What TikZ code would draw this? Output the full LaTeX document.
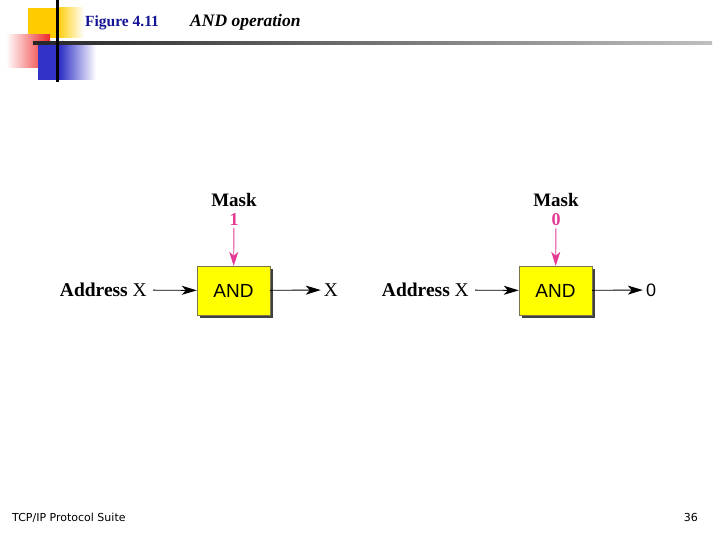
\documentclass[tikz,border=0pt]{standalone}
\usepackage{fontspec}
\setmainfont{Liberation Serif}
\newfontfamily\boxfont{Liberation Sans}
\newfontfamily\footfont{DejaVu Sans}
\usetikzlibrary{arrows.meta,shadows}
\definecolor{titleblue}{RGB}{20,20,150}
\definecolor{maskpink}{RGB}{228,58,148}
\definecolor{gateyellow}{RGB}{255,255,0}
\definecolor{decoyellow}{RGB}{255,204,0}
\definecolor{decored}{RGB}{240,40,40}
\definecolor{decoblue}{RGB}{50,50,200}
\tikzset{
  addr/.style={font=\fontsize{19.5}{22}\selectfont\bfseries, inner sep=6pt},
  result/.style={font=\fontsize{19.5}{22}\selectfont, inner sep=3pt},
  gate/.style={draw=black!60!yellow, fill=gateyellow, minimum width=73pt, minimum height=49pt,
    inner sep=0pt, font=\boxfont\fontsize{19}{21}\selectfont,
    drop shadow={shadow xshift=3pt, shadow yshift=-3pt, fill=black!75, opacity=1}},
  masklabel/.style={font=\fontsize{19}{21}\selectfont\bfseries, inner sep=1pt},
  bit/.style={font=\fontsize{18}{20}\selectfont\bfseries, text=maskpink, inner sep=2pt},
  flow/.style={-{Stealth[length=15pt,width=9pt,inset=4pt]}, line width=0.9pt},
  maskflow/.style={-{Stealth[length=14pt,width=9pt,inset=4pt]}, line width=0.9pt, draw=maskpink}
}
\begin{document}
\begin{tikzpicture}[x=1pt, y=-1pt]
\useasboundingbox[fill=white] (0,0) rectangle (720,540);
% corner decoration
\fill[decoyellow] (28,8) rectangle (57,38);
\shade[left color=decoyellow, right color=white] (57,8) rectangle (84,38);
\shade[left color=white, right color=decored] (6,35) rectangle (50,68);
\fill[decoblue] (38,44) rectangle (60,80);
\shade[left color=decoblue, right color=white] (60,44) rectangle (96,80);
\shade[left color=black!85, right color=black!25] (33,42) rectangle (712,45);
\fill[black] (55.5,0) rectangle (58.5,82);
% title
\node[anchor=base west, font=\fontsize{15.5}{18}\selectfont\bfseries, text=titleblue, inner sep=0pt]
  (fig) at (85,27) {Figure 4.11};
\node[anchor=base west, font=\fontsize{17.5}{20}\selectfont\bfseries\itshape, inner sep=0pt]
  (figname) at (190,27) {AND operation};

% left: mask bit 1
\node[gate] (andA) at (233.5,290.5) {AND};
\node[addr, anchor=east] (inA) at (153,290) {Address {\mdseries X}};
\node[result] (outA) at (331,290) {X};
\node[masklabel] (maskA) at (234,200) {Mask};
\node[bit] (bitA) at (234,220) {1};
\draw[flow] (inA) -- (andA);
\draw[flow] (andA) -- (outA);
\draw[maskflow] (bitA) -- (andA);

% right: mask bit 0
\node[gate] (andB) at (555.5,290.5) {AND};
\node[addr, anchor=east] (inB) at (475,290) {Address {\mdseries X}};
\node[result, font=\boxfont\fontsize{18}{20}\selectfont] (outB) at (651,290) {0};
\node[masklabel] (maskB) at (556,200) {Mask};
\node[bit] (bitB) at (556,220) {0};
\draw[flow] (inB) -- (andB);
\draw[flow] (andB) -- (outB);
\draw[maskflow] (bitB) -- (andB);

% footer
\node[anchor=base west, font=\footfont\fontsize{11}{13}\selectfont, inner sep=0pt]
  (suite) at (12,521) {TCP/IP Protocol Suite};
\node[anchor=base east, font=\footfont\fontsize{11}{13}\selectfont, inner sep=0pt]
  (page) at (698,521) {36};
\end{tikzpicture}
\end{document}
